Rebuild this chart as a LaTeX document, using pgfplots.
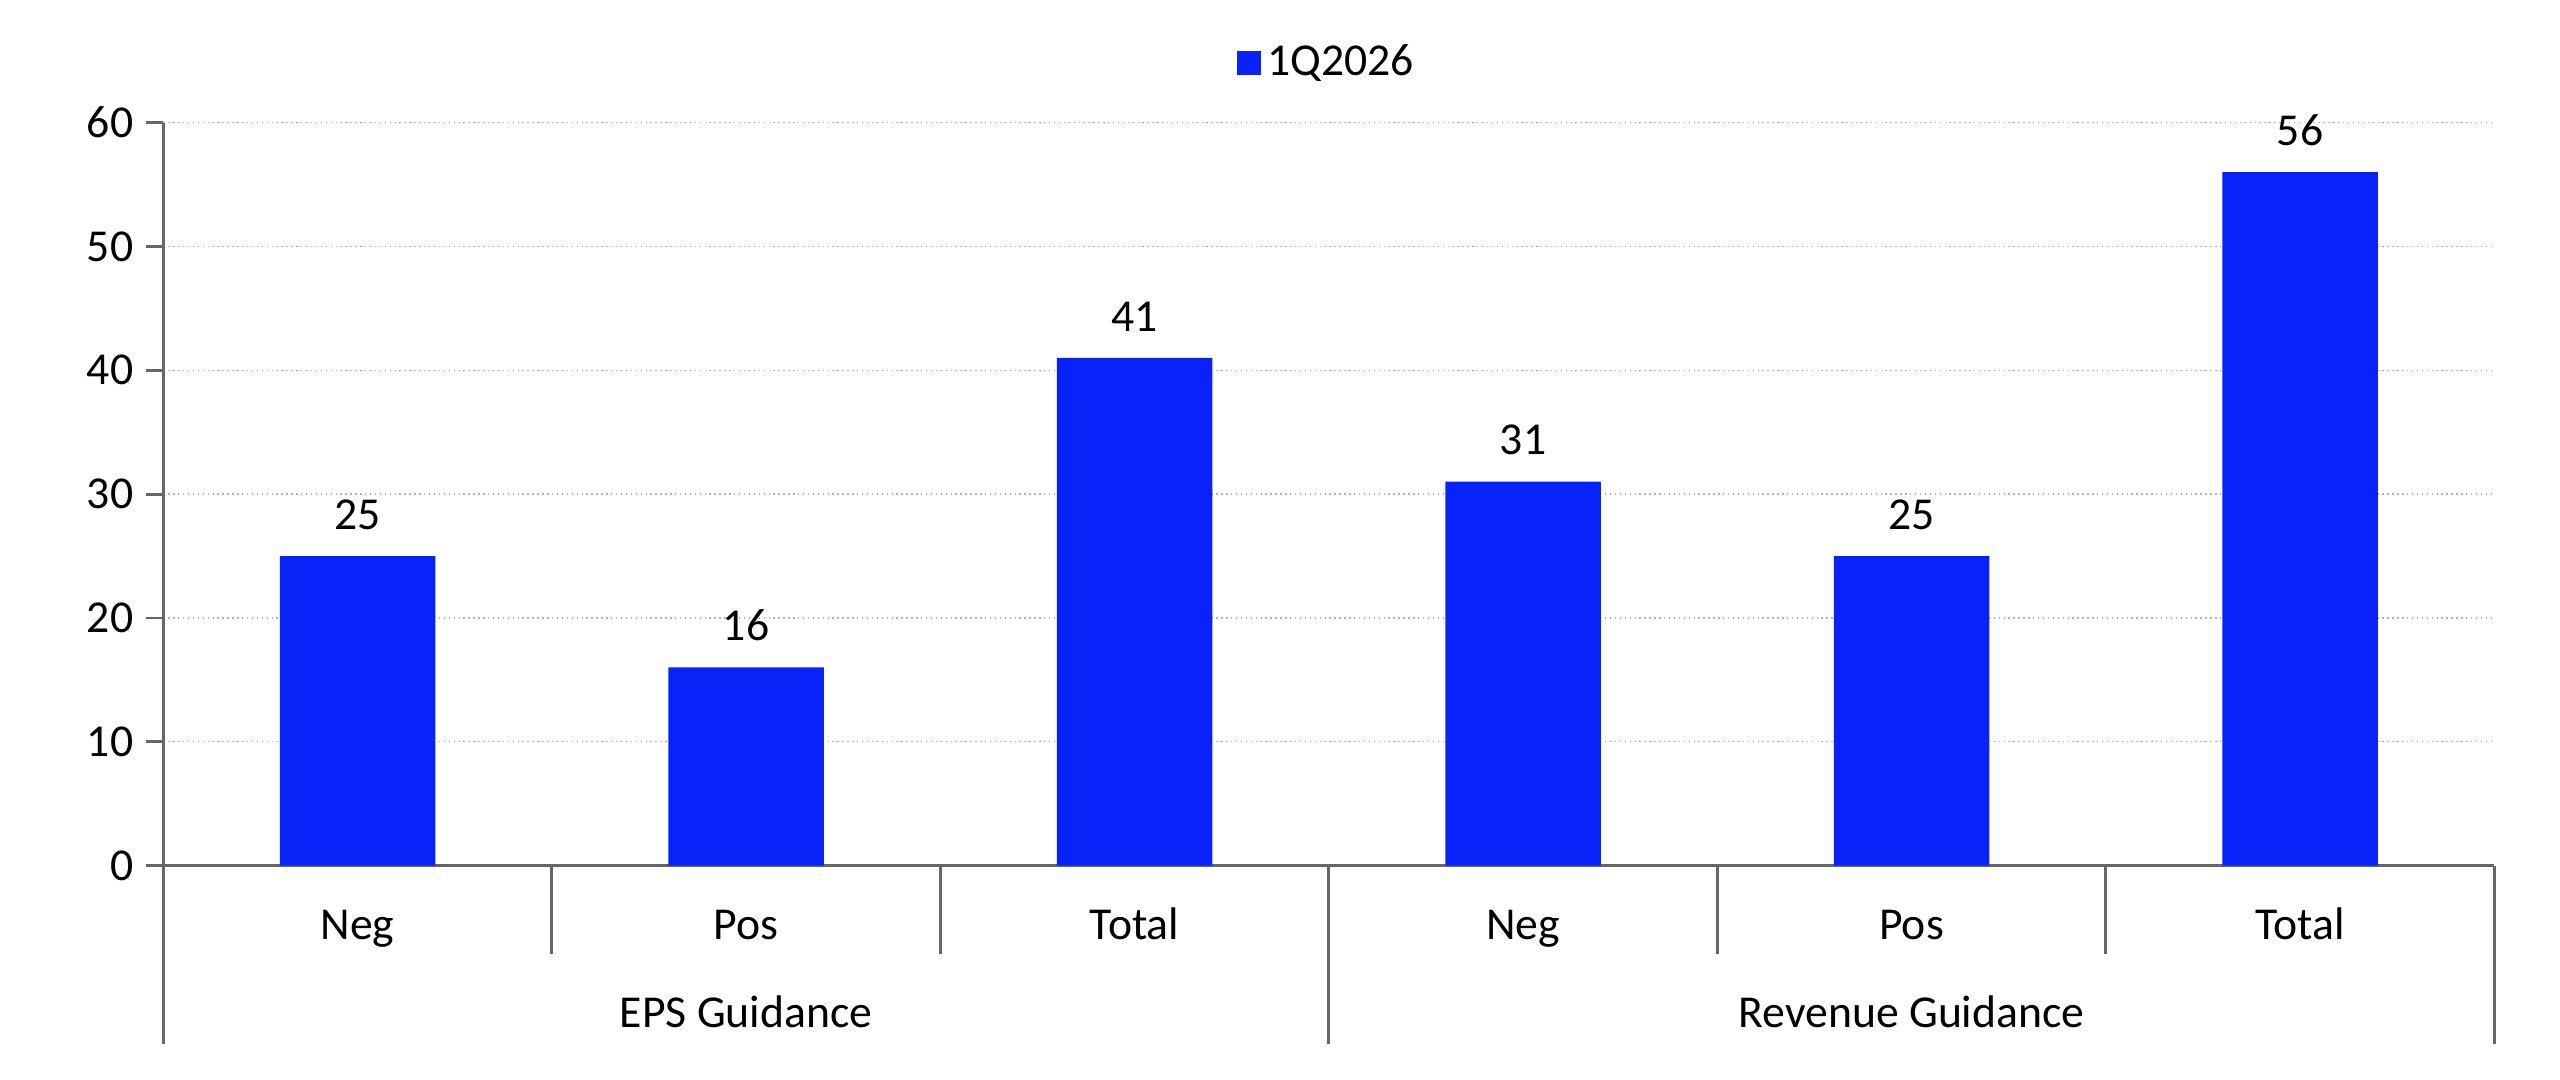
\documentclass[border=0pt]{standalone}
\usepackage{pgfplots}
\pgfplotsset{compat=1.18}
\usepackage{fontspec}
\setmainfont{Carlito}
\definecolor{barblue}{RGB}{8,34,250}
\begin{document}
\begin{tikzpicture}
\path[use as bounding box] (-1.633cm,-2.144cm) rectangle (23.967cm,8.656cm);
\begin{axis}[
  at={(0,0)}, anchor=south west,
  scale only axis, width=23.31cm, height=7.43cm,
  xmin=-0.5, xmax=5.5, ymin=0, ymax=60,
  ytick={0,10,...,60},
  xtick=\empty,
  axis x line*=bottom, axis y line*=left,
  axis line style={gray!80!black, line width=0.8pt},
  ytick style={gray!80!black, line width=0.8pt},
  tick align=outside, major tick length=5pt,
  ymajorgrids, grid style={densely dotted, gray!60},
  tick label style={font=\fontsize{13}{15}\selectfont},
  /pgf/number format/assume math mode=true,
  clip=false,
  legend style={at={(0.5,1.08)}, anchor=center, draw=none, font=\fontsize{13}{15}\selectfont},
  legend image code/.code={\fill[barblue] (0cm,-0.12cm) rectangle (0.24cm,0.12cm);},
  nodes near coords, every node near coord/.append style={font=\fontsize{13}{15}\selectfont, yshift=4pt},
]
\addplot[ybar, bar width=1.554cm, fill=barblue, draw=none] coordinates {(0,25) (1,16) (2,41) (3,31) (4,25) (5,56)};
\addlegendentry{1Q2026}
\foreach \x in {0.5,1.5,3.5,4.5}{
  \edef\tmp{\noexpand\draw[gray!80!black, line width=0.8pt] (axis cs:\x,0) -- (axis cs:\x,-7.14);}\tmp
}
\foreach \x in {-0.5,2.5,5.5}{
  \edef\tmp{\noexpand\draw[gray!80!black, line width=0.8pt] (axis cs:\x,0) -- (axis cs:\x,-14.4);}\tmp
}
\foreach \x/\l in {0/Neg,1/Pos,2/Total,3/Neg,4/Pos,5/Total}{
  \edef\tmp{\noexpand\node[anchor=base, font=\noexpand\fontsize{13}{15}\noexpand\selectfont] at (axis cs:\x,-6.0) {\l};}\tmp
}
\node[anchor=base, font=\fontsize{13}{15}\selectfont] at (axis cs:1,-13.1) {EPS Guidance};
\node[anchor=base, font=\fontsize{13}{15}\selectfont] at (axis cs:4,-13.1) {Revenue Guidance};
\end{axis}
\end{tikzpicture}
\end{document}
